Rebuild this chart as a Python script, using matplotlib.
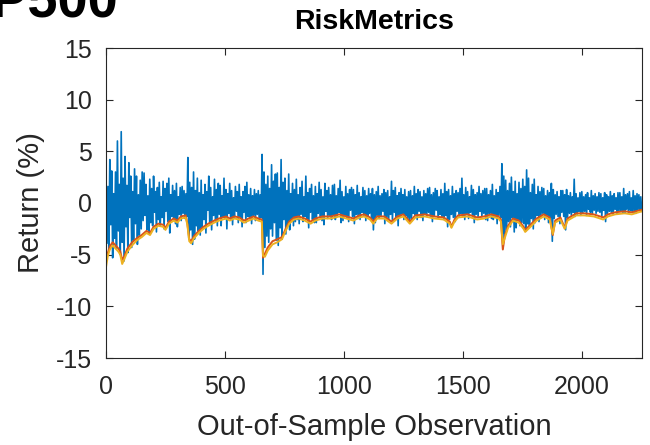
import numpy as np
import matplotlib
matplotlib.use("Agg")
import matplotlib.pyplot as plt

plt.rcParams['font.family'] = ['Liberation Sans', 'DejaVu Sans']
plt.rcParams['axes.unicode_minus'] = False

# -----------------------------
# Data
# -----------------------------
step = 4  # observations between the returns samples below

returns = [
    2.8, -3.9, 1.6, -4.6, 4.2, -2.1, 3.1, -5.3, 0.9, -3.4, 3.0, -4.4, 6.0, -2.7, 1.8, -5.0, 6.9, -3.8, 2.4, -5.6,
    4.5, -2.3, 1.7, -4.8, 3.9, -1.4, 2.6, -4.3, 1.1, -3.6, 3.3, -2.0, 2.6, -4.0, 0.8, -3.1, 2.2, -2.5, 3.0, -1.7,
    2.9, -1.2, 1.8, -2.6, 0.7, -3.0, 2.3, -1.9, 1.4, -2.2, 2.6, -0.9, 1.1, -2.8, 1.5, -1.6, 2.0, -2.2, 0.6, -1.4,
    2.1, -2.5, 1.4, -0.8, 1.9, -1.8, 2.4, -2.9, 0.8, -1.3, 1.7, -1.6, 1.2, -2.0, 1.9, -2.3, 0.6, -1.1, 1.5, -1.7,
    1.6, -1.0, 1.2, -1.5, 0.9, -1.3, 4.4, -3.4, 2.0, -2.6, 1.5, -4.0, 3.0, -3.5, 1.2, -2.2, 2.4, -2.7, 1.0, -3.1,
    2.2, -2.4, 0.8, -1.6, 1.8, -2.9, 1.1, -0.7, 2.6, -2.0, 1.5, -2.6, 0.6, -1.2, 2.3, -1.8, 1.3, -2.2, 1.9, -1.1,
    1.7, -2.2, 0.7, -1.3, 2.4, -1.5, 1.3, -2.5, 0.9, -1.0, 1.9, -1.6, 1.2, -2.1, 0.5, -1.4, 1.6, -0.8, 1.1, -1.9,
    1.8, -1.4, 0.6, -2.3, 1.1, -0.9, 1.6, -1.9, 2.0, -1.3, 0.8, -1.5, 1.4, -2.0, 0.7, -1.2, 1.3, -1.7, 0.9, -1.1,
    1.2, -1.7, 0.8, -1.4, 4.7, -6.9, 3.0, -4.3, 1.8, -3.2, 2.6, -3.8, 1.4, -2.5, 3.7, -3.2, 2.1, -1.9, 2.8, -3.6,
    2.9, -4.1, 1.5, -2.4, 4.2, -3.5, 2.0, -1.6, 2.4, -3.0, 1.2, -2.1, 2.8, -2.6, 0.9, -1.5, 1.9, -2.2, 1.3, -1.8,
    2.3, -1.6, 0.8, -2.0, 1.5, -1.1, 2.1, -1.8, 0.6, -1.3, 2.6, -1.5, 1.0, -2.4, 1.4, -0.9, 1.8, -1.6, 0.7, -1.9,
    1.6, -1.9, 0.9, -1.0, 2.0, -1.4, 1.3, -1.7, 0.6, -2.1, 1.9, -0.8, 1.2, -1.5, 1.5, -1.2, 0.8, -1.6, 1.7, -1.1,
    1.8, -1.6, 0.7, -1.3, 1.4, -0.9, 2.2, -1.9, 1.1, -1.7, 0.6, -1.2, 1.6, -1.4, 0.9, -1.8, 1.3, -0.7, 1.5, -1.3,
    1.3, -2.0, 0.8, -1.1, 1.7, -1.5, 1.0, -1.6, 0.6, -0.9, 1.5, -1.2, 1.2, -1.7, 0.7, -1.3, 1.4, -1.0, 0.9, -1.5,
    1.4, -2.6, 0.8, -1.9, 1.1, -1.2, 1.6, -1.5, 0.7, -1.3, 0.9, -0.8, 1.3, -2.0, 1.0, -1.4, 1.2, -1.6, 0.6, -1.1,
    2.1, -1.7, 1.2, -0.9, 1.5, -1.4, 0.7, -2.2, 1.0, -1.3, 1.4, -1.0, 0.8, -1.6, 1.3, -1.2, 0.6, -1.5, 1.1, -1.8,
    1.2, -1.5, 0.7, -1.0, 1.6, -1.2, 0.9, -1.6, 1.3, -0.8, 1.1, -1.4, 0.6, -1.7, 1.2, -1.1, 0.9, -1.3, 1.4, -0.9,
    1.5, -1.3, 0.8, -1.8, 1.0, -1.2, 1.4, -0.7, 1.2, -1.5, 0.6, -1.1, 1.3, -1.4, 0.9, -1.6, 1.9, -1.2, 1.1, -2.3,
    1.3, -1.6, 0.7, -1.1, 1.6, -1.4, 0.9, -1.8, 1.2, -0.8, 1.0, -1.3, 1.4, -1.0, 2.4, -1.3, 0.8, -1.6, 1.5, -1.1,
    1.1, -1.5, 0.6, -0.9, 1.7, -1.2, 1.3, -1.9, 0.8, -1.1, 1.0, -1.4, 1.6, -0.8, 0.9, -1.3, 1.2, -1.0, 1.4, -1.6,
    1.4, -1.7, 0.8, -1.0, 1.2, -1.5, 1.8, -1.6, 0.7, -1.3, 1.3, -2.0, 1.0, -1.2, 1.6, -1.4, 3.8, -4.4, 2.6, -3.0,
    2.2, -2.6, 1.2, -1.8, 1.9, -2.3, 2.5, -1.4, 1.1, -2.8, 2.1, -2.4, 0.9, -1.6, 2.0, -2.2, 1.4, -1.9, 2.3, -2.0,
    1.6, -2.7, 3.2, -2.0, 2.4, -2.2, 1.0, -1.5, 1.8, -2.5, 2.3, -1.9, 0.8, -1.2, 1.6, -1.8, 1.1, -1.4, 1.5, -1.0,
    1.4, -1.6, 0.7, -1.2, 1.2, -1.9, 1.0, -1.4, 1.9, -3.7, 1.3, -1.5, 0.8, -1.1, 1.1, -1.3, 0.6, -2.0, 1.2, -0.9,
    1.2, -1.3, 0.8, -2.6, 1.3, -1.4, 0.7, -1.0, 1.0, -1.2, 0.6, -0.9, 2.3, -1.3, 0.9, -1.1, 0.5, -0.8, 1.0, -1.2,
    1.1, -1.0, 0.6, -0.8, 0.8, -1.2, 1.0, -0.6, 0.5, -0.9, 1.2, -1.1, 0.7, -0.7, 0.9, -1.0, 0.6, -0.8, 1.0, -0.9,
    0.9, -1.3, 0.5, -0.7, 1.0, -1.8, 0.8, -1.0, 0.6, -0.8, 1.1, -0.9, 0.7, -1.1, 0.9, -0.6, 0.5, -1.0, 1.0, -0.8,
    1.0, -0.8, 0.6, -0.9, 1.4, -1.0, 0.8, -0.6, 0.9, -0.9, 1.1, -0.7, 0.5, -0.8, 1.2, -0.9, 0.7, -1.0, 0.9, -0.7,
    0.8, -0.7, 0.6, -0.8,
]

var_obs = [
    0, 8, 16, 28, 40, 52, 60, 68, 76, 90,
    110, 130, 150, 170, 185, 200, 220, 240, 250, 265,
    285, 300, 315, 335, 342, 350, 358, 370, 390, 410,
    430, 455, 475, 490, 505, 520, 540, 560, 580, 600,
    620, 640, 655, 660, 668, 680, 700, 720, 740, 755,
    770, 790, 810, 835, 860, 880, 910, 945, 980, 1010,
    1040, 1065, 1085, 1110, 1123, 1140, 1170, 1200, 1225, 1250,
    1277, 1300, 1340, 1380, 1420, 1445, 1452, 1465, 1480, 1520,
    1560, 1590, 1620, 1650, 1660, 1668, 1676, 1690, 1711, 1735,
    1755, 1762, 1780, 1810, 1840, 1865, 1878, 1888, 1910, 1928,
    1940, 1977, 2010, 2050, 2090, 2110, 2140, 2180, 2210, 2253,
]

var_red = [
    -5.6, -4.8, -4.2, -3.8, -4.1, -4.4, -4.7, -5.5, -5.2, -4.4,
    -3.8, -3.4, -3.1, -2.7, -2.9, -2.3, -2.0, -2.1, -2.4, -1.8,
    -1.5, -1.7, -1.3, -1.2, -2.0, -3.5, -3.7, -3.2, -2.7, -2.3,
    -2.0, -1.7, -1.5, -1.4, -1.3, -1.5, -1.3, -1.4, -1.7, -1.5,
    -1.3, -1.5, -1.6, -5.3, -4.9, -4.3, -3.7, -3.5, -3.3, -2.5,
    -1.8, -1.4, -1.3, -1.5, -1.8, -1.5, -1.3, -1.3, -1.1, -1.3,
    -1.5, -1.2, -1.1, -1.4, -1.8, -1.3, -1.3, -1.8, -1.3, -1.1,
    -1.8, -1.2, -1.1, -1.3, -1.4, -1.8, -2.3, -1.6, -1.2, -1.1,
    -1.4, -1.3, -1.1, -1.3, -1.6, -4.5, -3.2, -2.2, -1.5, -1.7,
    -2.3, -2.6, -2.2, -1.5, -1.1, -1.4, -3.1, -1.7, -1.4, -2.4,
    -1.5, -1.0, -1.0, -1.1, -1.4, -1.1, -0.9, -0.8, -0.9, -0.65,
]

var_orange = [
    -6.2, -5.1, -4.5, -4.1, -4.4, -4.7, -5.0, -5.9, -5.5, -4.7,
    -4.1, -3.6, -3.3, -2.9, -3.1, -2.5, -2.2, -2.3, -2.6, -2.0,
    -1.7, -1.9, -1.5, -1.4, -2.1, -3.7, -3.9, -3.4, -2.9, -2.5,
    -2.2, -1.9, -1.7, -1.6, -1.5, -1.7, -1.5, -1.6, -1.9, -1.7,
    -1.5, -1.7, -1.8, -5.1, -5.2, -4.6, -4.0, -3.8, -3.5, -2.7,
    -2.0, -1.6, -1.5, -1.7, -2.0, -1.7, -1.5, -1.5, -1.3, -1.5,
    -1.7, -1.4, -1.3, -1.6, -2.0, -1.5, -1.5, -2.0, -1.5, -1.3,
    -2.0, -1.4, -1.3, -1.5, -1.6, -2.0, -2.4, -1.8, -1.4, -1.3,
    -1.6, -1.5, -1.3, -1.5, -1.8, -4.0, -3.4, -2.4, -1.7, -1.9,
    -2.5, -2.8, -2.4, -1.7, -1.3, -1.6, -3.0, -1.9, -1.6, -2.5,
    -1.7, -1.2, -1.2, -1.3, -1.6, -1.3, -1.1, -1.0, -1.1, -0.8,
]

x_ticks = [0, 500, 1000, 1500, 2000]
y_ticks = [-15, -10, -5, 0, 5, 10, 15]

blue = '#0072BD'
red = '#D95319'
orange = '#EDB120'
axis_col = '#262626'

# -----------------------------
# Figure
# -----------------------------
fig = plt.figure(figsize=(6.5, 4.45), dpi=100)
ax = fig.add_axes([106 / 650, 1 - 358 / 445, 536 / 650, 310 / 445])

obs = np.arange(len(returns)) * step
ax.plot(obs, returns, color=blue, lw=1.2)
ax.plot(var_obs, var_red, color=red, lw=1.4)
ax.plot(var_obs, var_orange, color=orange, lw=1.4)

ax.set_xlim(0, 2253)
ax.set_ylim(-15, 15)
ax.set_xticks(x_ticks)
ax.set_yticks(y_ticks)

for s in ax.spines.values():
    s.set_color(axis_col)
    s.set_linewidth(0.8)
ax.tick_params(direction='in', length=5, width=0.8, colors=axis_col,
               labelsize=18, top=True, right=True)
ax.tick_params(axis='x', pad=12)
ax.tick_params(axis='y', pad=10)

ax.set_xlabel('Out-of-Sample Observation', fontsize=21, color=axis_col, labelpad=10)
ax.set_ylabel('Return (%)', fontsize=21, color=axis_col, labelpad=8)
ax.set_title('RiskMetrics', fontsize=20.5, fontweight='bold', pad=14)

fig.text(118 / 650, 1 - 18 / 445, 'S&P500', fontsize=39, fontweight='bold',
         ha='right', va='baseline')

fig.savefig('out.png', dpi=100)
